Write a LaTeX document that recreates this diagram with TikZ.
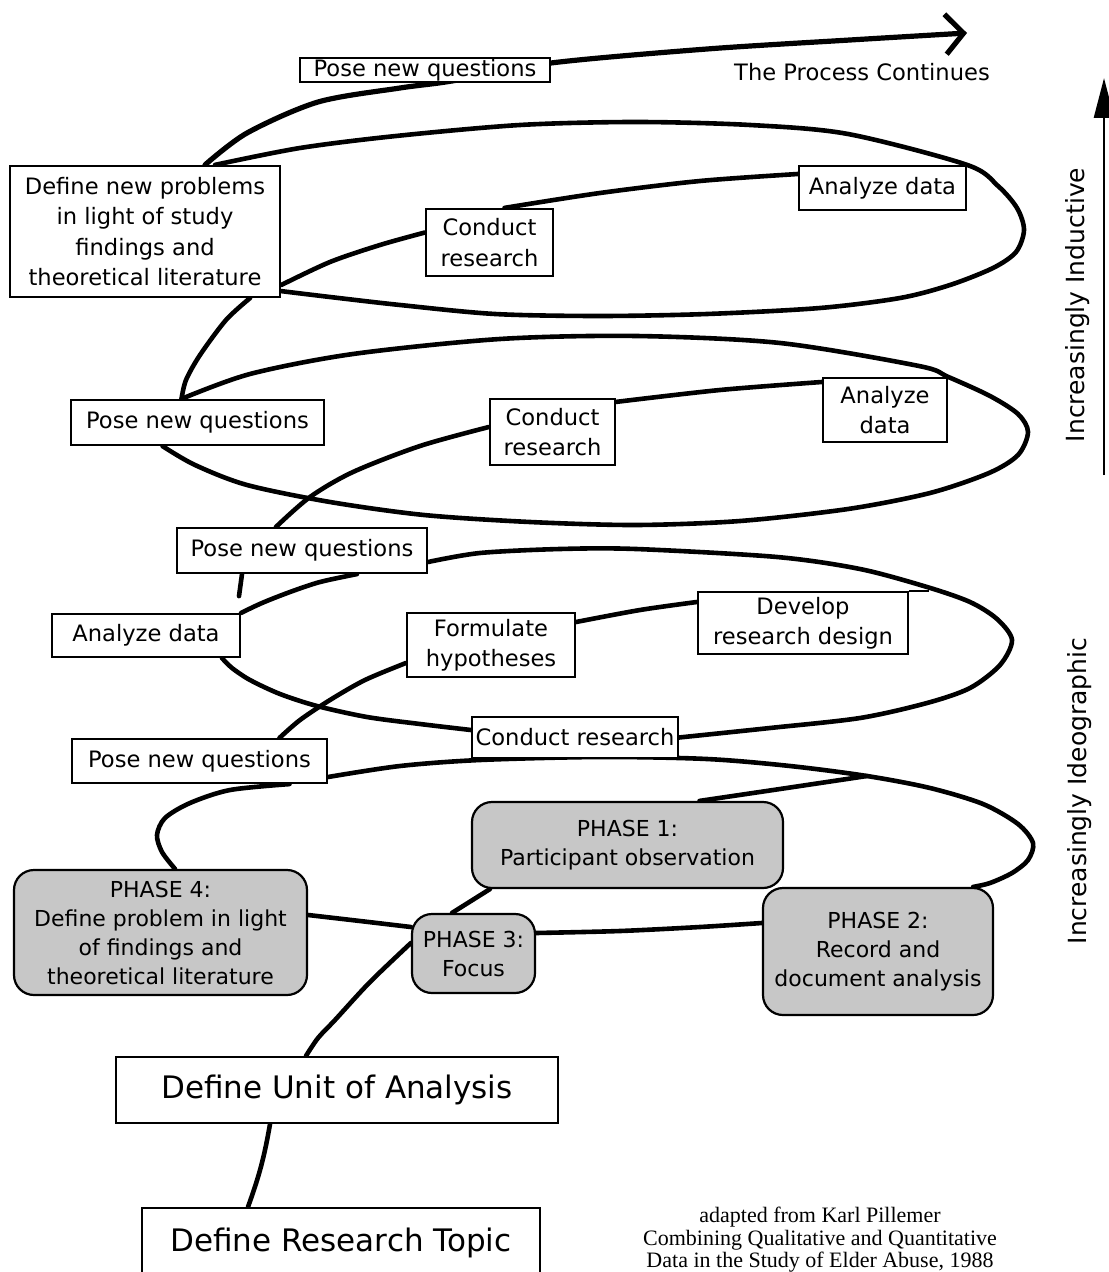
\documentclass[tikz,border=0pt]{standalone}
\usepackage{fontspec}
\setmainfont{DejaVu Sans}
\newfontfamily\citefont{Liberation Serif}
\usetikzlibrary{arrows.meta, calc, backgrounds}

\begin{document}
\begin{tikzpicture}[
  x=0.5pt, y=-0.5pt,
  block/.style={rectangle, draw=black, fill=white, line width=1.1pt, inner sep=0pt, align=center, font=\fontsize{11.3}{15.2}\selectfont},
  phase/.style={rectangle, draw=black, fill=black!22, rounded corners=10pt, line width=1.1pt, inner sep=0pt, align=center, font=\fontsize{11}{14.5}\selectfont},
  base/.style={block, font=\fontsize{15.5}{18}\selectfont},
  helix/.style={draw=black, line width=2.3pt, line cap=round, line join=round},
  side/.style={rotate=90, font=\fontsize{12.5}{15}\selectfont},
  credit/.style={align=center, font=\citefont\fontsize{11}{11.3}\selectfont}
]
  \useasboundingbox (0,0) rectangle (1108,1272);

  % Top turn
  \node[block, minimum width=125pt, minimum height=12pt] (pq0) at (425,70) {Pose new questions};
  \node (cont) at (862,72) {\fontsize{11.3}{13}\selectfont The Process Continues};
  \coordinate (onward) at (967,33);

  % Loop 1
  \node[block, minimum width=135pt, minimum height=65.5pt] (defnew) at (145,231.5) {Define new problems\\in light of study\\findings and\\theoretical literature};
  \node[block, minimum width=63.5pt, minimum height=33.5pt] (cr1) at (489.5,242.5) {Conduct\\research};
  \node[block, minimum width=83.5pt, minimum height=22pt] (ad1) at (882.5,188) {Analyze data};

  % Loop 2
  \node[block, minimum width=126.5pt, minimum height=22.5pt] (pq2) at (197.5,422.5) {Pose new questions};
  \node[block, minimum width=62.5pt, minimum height=33pt] (cr2) at (552.5,432) {Conduct\\research};
  \node[block, minimum width=62pt, minimum height=32pt] (ad2) at (885,410) {Analyze\\data};

  % Loop 3
  \node[block, minimum width=125pt, minimum height=22.5pt] (pq3) at (302,550.5) {Pose new questions};
  \node[block, minimum width=94pt, minimum height=21.5pt] (ad3) at (146,635.5) {Analyze data};
  \node[block, minimum width=84pt, minimum height=32pt] (hyp) at (491,645) {Formulate\\hypotheses};
  \node[block, minimum width=105pt, minimum height=31pt] (design) at (803,623) {Develop\\research design};
  \node[block, minimum width=103pt, minimum height=20.5pt] (cr3) at (575,737.5) {Conduct research};

  % Loop 4 (phases)
  \node[block, minimum width=127.5pt, minimum height=22pt] (pq4) at (199.5,761) {Pose new questions};
  \node[phase, minimum width=155.5pt, minimum height=43pt] (ph1) at (627.5,845) {PHASE 1:\\Participant observation};
  \node[phase, minimum width=115pt, minimum height=63.5pt] (ph2) at (878,951.5) {PHASE 2:\\Record and\\document analysis};
  \node[phase, minimum width=61.5pt, minimum height=39.5pt] (ph3) at (473.5,953.5) {PHASE 3:\\Focus};
  \node[phase, minimum width=146.5pt, minimum height=62.5pt] (ph4) at (160.5,932.5) {PHASE 4:\\Define problem in light\\of findings and\\theoretical literature};

  % Base
  \node[base, minimum width=221pt, minimum height=33pt] (unit) at (337,1090) {Define Unit of Analysis};
  \node[base, minimum width=199pt, minimum height=35pt] (topic) at (341,1243) {Define Research Topic};
  \node[credit] (src) at (820,1240) {adapted from Karl Pillemer\\Combining Qualitative and Quantitative\\Data in the Study of Elder Abuse, 1988};

  % Side scale
  \node[side] (induct) at (1078,305) {Increasingly Inductive};
  \node[side] (ideo) at (1080,791) {Increasingly Ideographic};
  \coordinate (scale-bot) at (1104,475);
  \coordinate (scale-top) at (1104,78);
  \draw[line width=1.4pt, -{Triangle[length=20pt, width=10pt]}] (scale-bot) -- (scale-top);

  \begin{scope}[on background layer]
    % top turn
    \draw[helix, line width=2.6pt, -{Straight Barb[length=9pt, width=20pt]}] plot[smooth] coordinates {($(defnew.north)+(60,0)$) (247,133) (318,102) (400,88) (452,81) (551,63) (707,49) (850,40) (onward)};
    % loop 1
    \draw[helix] plot[smooth] coordinates {($(defnew.north)+(70,0)$) (300,148) (396,136) (520,125) (636,122) (750,125) (848,134) (ad1.north east) (998,186) (1017,208) (1024,230) (1016,252) (993,268) (950,285) (900,298) (820,308) (707,314) (600,316) (495,314) (400,305) (330,297) ($(defnew.south east)+(0,-7)$)};
    \draw[helix] plot[smooth] coordinates {($(defnew.south east)+(0,-13)$) (330,262) (380,245) ($(cr1.west)+(0,-10)$)};
    \draw[helix] plot[smooth] coordinates {($(cr1.north)+(15,0)$) (600,193) (700,181) ($(ad1.west)+(0,-14)$)};
    \draw[helix] plot[smooth] coordinates {($(defnew.south)+(105,0)$) (226,320) (200,355) (186,380) ($(pq2.north)+(-16,0)$)};
    % loop 2
    \draw[helix] plot[smooth] coordinates {($(pq2.north)+(-16,0)$) (250,374) (353,354) (500,339) (636,336) (780,343) (919,366) (ad2.north east) (990,396) (1018,414) (1028,432) (1018,455) (989,473) (930,493) (848,509) (740,521) (636,525) (530,522) (424,515) (330,502) (247,485) (195,465) ($(pq2.south)+(-35,0)$)};
    \draw[helix] plot[smooth] coordinates {($(cr2.west)+(0,-5)$) (420,446) (353,472) (310,497) ($(pq3.north)+(-26,0)$)};
    \draw[helix] plot[smooth] coordinates {($(cr2.north east)+(0,4)$) (720,390) ($(ad2.west)+(0,-28)$)};
    % loop 3
    \draw[helix] ($(pq3.south)+(-60,0)$) -- ++(-3,22);
    \draw[helix] plot[smooth] coordinates {($(pq3.east)+(0,11.5)$) (480,553) (560,549) (636,549) (777,557) (860,569) (927,587) (970,602) (997,619) (1012,640) (1000,665) (970,688) (927,703) (860,718) (770,728) (cr3.east)};
    \draw[helix] plot[smooth] coordinates {($(pq3.south)+(55,0)$) (320,582) (290,592) (262,603) (ad3.north east)};
    \draw[helix] plot[smooth] coordinates {($(cr3.west)+(0,-7.5)$) (420,724) (367,717) (317,706) (280,694) (250,680) (232,668) ($(ad3.south)+(76,0)$)};
    \draw[line width=1.1pt] (design.north east) -- ++(20,0);
    \draw[helix] plot[smooth] coordinates {($(pq4.north)+(80,0)$) (300,720) (330,700) (365,680) ($(hyp.west)+(0,18)$)};
    \draw[helix] plot[smooth] coordinates {($(hyp.east)+(0,-23)$) (640,610) ($(design.west)+(0,-21)$)};
    % loop 4
    \draw[helix] plot[smooth] coordinates {($(pq4.east)+(0,16)$) (400,766) (480,760) (600,757) (707,759) (790,766) (867,776) (930,788) (983,804) (1018,824) (1033,843) (1028,860) (1012,873) (990,883) ($(ph2.north east)+(-21,0)$)};
    \draw[helix] plot[smooth] coordinates {($(ph2.west)+(0,-28.5)$) (700,927) (620,931) ($(ph3.east)+(0,-20.5)$)};
    \draw[helix] plot[smooth] coordinates {($(ph3.west)+(0,-26.5)$) (360,921) ($(ph4.east)+(0,-17.5)$)};
    \draw[helix] plot[smooth] coordinates {($(ph4.north)+(14.5,0)$) (162,852) (157,835) (165,818) (190,803) (230,790) ($(pq4.south)+(90,0)$)};
    \draw[helix] plot[smooth] coordinates {($(unit.north)+(-31,0)$) (318,1038) (335,1020) (370,982) ($(ph3.west)+(0,-10.5)$)};
    \draw[helix] ($(ph3.north)+(-21.5,0)$) -- ($(ph1.south west)+(19,0)$);
    \draw[helix] plot[smooth] coordinates {($(ph1.north)+(72,0)$) (780,789) (867,776)};
    % base
    \draw[helix] ($(unit.south)+(-67,0)$) to[bend left=5] ($(topic.north)+(-93,0)$);
  \end{scope}
\end{tikzpicture}
\end{document}
